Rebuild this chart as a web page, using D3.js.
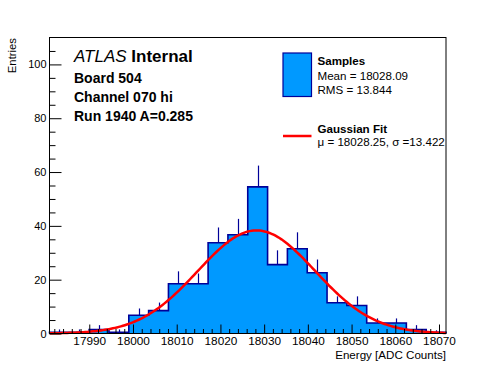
<!DOCTYPE html>
<html>
<head>
<meta charset="utf-8">
<script src="https://cdn.jsdelivr.net/npm/d3@7"></script>
<style>
  html, body { margin: 0; padding: 0; background: #fff; }
  svg { display: block; }
  text { font-family: "Liberation Sans", Arial, Helvetica, sans-serif; }
</style>
</head>
<body>
<svg id="chart" width="496" height="372"></svg>
<script>
// ---- data ----
const xMin = 17980.9;
const xMax = 18071.6;
const binValues = [0.4, 0.4, 1.5, 0.4, 6.8, 8.5, 18.5, 18.5, 33.7, 36.7, 54.5, 25.6, 31.5, 22.6, 11.4, 10.4, 3.9, 3.9, 1.5, 0.4];
const binErrors = [1.1, 1.1, 1.6, 1.1, 2.5, 3.0, 4.6, 3.8, 5.7, 5.9, 7.9, 5.3, 6.1, 4.9, 2.4, 3.4, 1.7, 1.7, 1.6, 0.8];
const xMajorTicks = [17990, 18000, 18010, 18020, 18030, 18040, 18050, 18060, 18070];
const yMajorTicks = [0, 20, 40, 60, 80, 100];
const fitMu = 18028.25;
const fitSigma = 13.422;
const fitAmplitude = 38.3;
const infoLines = ["Board 504", "Channel 070 hi", "Run 1940 A=0.285"];
const legendSamples = ["Samples", "Mean = 18028.09", "RMS = 13.844"];
const legendFit = ["Gaussian Fit", "\u03bc = 18028.25, \u03c3 =13.422"];

// ---- layout ----
const svg = d3.select("#chart");
const L = 49.5, R = 446, T = 37.5, B = 333.5;
const x = d3.scaleLinear().domain([xMin, xMax]).range([L, R]);
const y = d3.scaleLinear().domain([0, 110]).range([B, T]);
const fillColor = "#0099ff";
const lineColor = "#000099";

const nb = binValues.length;
const bw = (xMax - xMin) / nb;
const edges = d3.range(nb + 1).map(i => xMin + i * bw);

// histogram step points
const stepPts = [[edges[0], 0]];
binValues.forEach((v, i) => { stepPts.push([edges[i], v]); stepPts.push([edges[i + 1], v]); });
stepPts.push([edges[nb], 0]);
const stepLine = d3.line().x(d => x(d[0])).y(d => y(d[1]));

const g = svg.append("g");
// fill as one path (no seams)
g.append("path").attr("d", stepLine(stepPts) + "Z").attr("fill", fillColor).attr("stroke", "none");
// outline
g.append("path").attr("d", stepLine(stepPts))
  .attr("fill", "none").attr("stroke", lineColor).attr("stroke-width", 1.6);

// error bars (upper part visible above fill)
g.selectAll("line.err").data(binValues).join("line")
  .attr("class", "err")
  .attr("x1", (d, i) => Math.round(x(edges[i] + bw / 2)) + 0.5)
  .attr("x2", (d, i) => Math.round(x(edges[i] + bw / 2)) + 0.5)
  .attr("y1", d => y(d))
  .attr("y2", (d, i) => y(d + binErrors[i]))
  .attr("stroke", lineColor).attr("stroke-width", 1.2);

// gaussian fit curve from the fit parameters
svg.append("clipPath").attr("id", "clipFrame")
  .append("rect").attr("x", L).attr("y", T).attr("width", R - L).attr("height", B - T + 2);
const fitXs = d3.range(0, 201).map(i => xMin + i * (xMax - xMin) / 200);
svg.append("path")
  .attr("clip-path", "url(#clipFrame)")
  .attr("d", d3.line()
    .x(d => x(d))
    .y(d => y(fitAmplitude * Math.exp(-((d - fitMu) ** 2) / (2 * fitSigma * fitSigma))))(fitXs))
  .attr("fill", "none").attr("stroke", "#ff0000").attr("stroke-width", 2.5);

// axes
const xAxis = svg.append("g").attr("transform", `translate(0,${B})`)
  .call(d3.axisBottom(x).tickValues(xMajorTicks).tickSize(-9).tickPadding(3.5).tickFormat(d3.format("d")));
const xMinorTicks = d3.range(17982, 18072, 2).filter(v => !xMajorTicks.includes(v));
svg.append("g").attr("transform", `translate(0,${B})`)
  .call(d3.axisBottom(x).tickValues(xMinorTicks).tickSize(-4.5).tickFormat(""));
const yAxis = svg.append("g").attr("transform", `translate(${L},0)`)
  .call(d3.axisLeft(y).tickValues(yMajorTicks).tickSize(-12).tickPadding(3).tickFormat(d3.format("d")));
const yMinorTicks = d3.range(5, 110, 5).filter(v => !yMajorTicks.includes(v));
svg.append("g").attr("transform", `translate(${L},0)`)
  .call(d3.axisLeft(y).tickValues(yMinorTicks).tickSize(-6).tickFormat(""));

svg.selectAll(".domain").remove();
svg.selectAll(".tick line").attr("stroke", "#000").attr("stroke-width", 1);
xAxis.selectAll("text").attr("font-size", 11.8).attr("fill", "#000")
  .attr("font-family", "Liberation Sans, Arial, sans-serif");
yAxis.selectAll("text").attr("font-size", 11).attr("fill", "#000")
  .attr("font-family", "Liberation Sans, Arial, sans-serif");

// frame
svg.append("rect").attr("x", L).attr("y", T).attr("width", R - L).attr("height", B - T)
  .attr("fill", "none").attr("stroke", "#000").attr("stroke-width", 1);

// axis titles
svg.append("text").attr("x", R).attr("y", 359).attr("text-anchor", "end")
  .attr("font-size", 11.6).text("Energy [ADC Counts]");
svg.append("text").attr("transform", "translate(16,38) rotate(-90)").attr("text-anchor", "end")
  .attr("font-size", 11.3).text("Entries");

// ATLAS label
const atl = svg.append("text").attr("x", 74).attr("y", 61.5).attr("font-size", 17);
atl.append("tspan").attr("font-style", "italic").text("ATLAS");
atl.append("tspan").attr("font-weight", "bold").text(" Internal");
infoLines.forEach((s, i) => {
  svg.append("text").attr("x", 74).attr("y", 82.5 + i * 19.2)
    .attr("font-size", 14).attr("font-weight", "bold").text(s);
});

// legend
svg.append("rect").attr("x", 283).attr("y", 53).attr("width", 28.5).attr("height", 43.5)
  .attr("fill", fillColor).attr("stroke", lineColor).attr("stroke-width", 1.2);
legendSamples.forEach((s, i) => {
  svg.append("text").attr("x", 317.5).attr("y", [65, 80, 94.3][i])
    .attr("font-size", 11.6).attr("font-weight", i === 0 ? "bold" : "normal").text(s);
});
svg.append("line").attr("x1", 283).attr("x2", 311.5).attr("y1", 136).attr("y2", 136)
  .attr("stroke", "#ff0000").attr("stroke-width", 2.5);
legendFit.forEach((s, i) => {
  svg.append("text").attr("x", 317.5).attr("y", [133.3, 145.5][i])
    .attr("font-size", 11.6).attr("font-weight", i === 0 ? "bold" : "normal").text(s);
});
</script>
</body>
</html>
